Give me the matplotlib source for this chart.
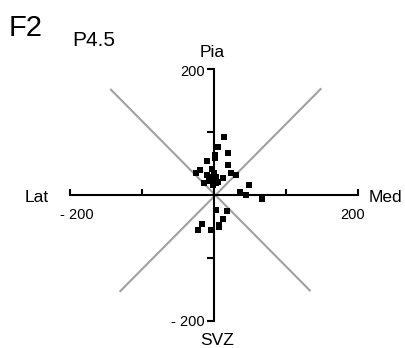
import matplotlib
matplotlib.use('Agg')
from matplotlib import pyplot as plt

plt.rcParams['font.family'] = ['Liberation Sans', 'DejaVu Sans']

# cell positions relative to the origin (Lat/Med, SVZ/Pia)
x_vals = [14, 6, 2, 2, 19, -10, 19, -19, -3, 0, -25, 24, -10, -6, -2, 3, 12,
          -7, 0, 6, -14, -1, 3, 30, 48, 36, 45, 67, 3, 18, 12, 7, 7, -17, -22, -4]
y_vals = [92, 76, 64, 59, 66, 54, 48, 40, 41, 34, 34, 34, 31, 28, 26, 28, 27,
          22, 20, 21, 18, 15, 18, 32, 16, 5, 0, -6, -24, -25, -38, -48, -51, -46, -56, -56]

# diagonal guide lines
diag1_x = [-143, 133]
diag1_y = [167, -152]
diag2_x = [148, -130]
diag2_y = [168, -153]

fig = plt.figure(figsize=(4.05, 3.48), dpi=100)
ax = fig.add_axes([0, 0, 1, 1])
ax.set_xlim(-297.2, 265.3)
ax.set_ylim(-243.6, 309.7)

ax.plot(diag1_x, diag1_y, color='#a0a0a0', lw=1.5, zorder=1)
ax.plot(diag2_x, diag2_y, color='#a0a0a0', lw=1.5, zorder=1)
ax.scatter(x_vals, y_vals, marker='s', s=14, color='black', linewidths=0, zorder=3)

for side in ['top', 'right']:
    ax.spines[side].set_visible(False)
ax.spines['left'].set_position(('data', 0))
ax.spines['bottom'].set_position(('data', 0))
ax.spines['left'].set_bounds(-200, 200)
ax.spines['bottom'].set_bounds(-200, 200)
for side in ['left', 'bottom']:
    ax.spines[side].set_linewidth(1.5)
    ax.spines[side].set_zorder(2)

ax.set_xticks([-200, -100, 100, 200])
ax.set_yticks([-200, -100, 100, 200])
ax.tick_params(axis='x', direction='in', length=4.5, width=1.5, labelbottom=False)
ax.tick_params(axis='y', direction='out', length=5, width=1.5, labelleft=False)

# labels
ax.text(-263, -5, 'Lat', fontsize=12.5, ha='left', va='center')
ax.text(215, -5, 'Med', fontsize=12.5, ha='left', va='center')
ax.text(-3, 226, 'Pia', fontsize=12.5, ha='center', va='center')
ax.text(4, -232, 'SVZ', fontsize=12.5, ha='center', va='center')
ax.text(-190, -32, '- 200', fontsize=10.5, ha='center', va='center')
ax.text(192, -32, '200', fontsize=10.5, ha='center', va='center')
ax.text(-13, 196, '200', fontsize=10.5, ha='right', va='center')
ax.text(-13, -202, '- 200', fontsize=10.5, ha='right', va='center')

fig.text(0.022, 0.92, 'F2', fontsize=21, ha='left', va='center')
fig.text(0.178, 0.885, 'P4.5', fontsize=15, ha='left', va='center')

fig.savefig('out.png', dpi=100)
plt.close()
